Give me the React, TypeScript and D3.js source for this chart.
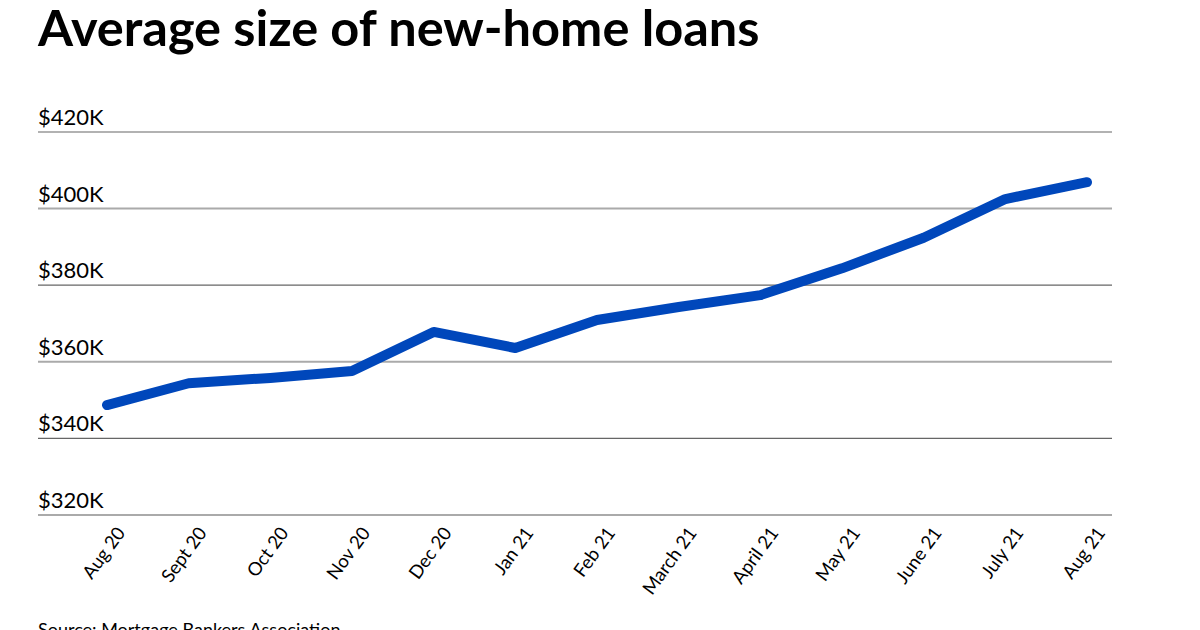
import React from "react";
import * as d3 from "d3";

const months = ["Aug 20","Sept 20","Oct 20","Nov 20","Dec 20","Jan 21","Feb 21","March 21","April 21","May 21","June 21","July 21","Aug 21"];
const avgLoan = [348.7,354.4,355.8,357.6,367.8,363.6,370.9,374.3,377.4,384.4,392.4,402.5,406.9];
const yTicks = [320,340,360,380,400,420];

const W = 1200, H = 630;
const FONT = "Lato, 'Noto Sans', sans-serif";

export default function App() {
  const x = d3.scalePoint<string>().domain(months).range([107, 1087]);
  const y = d3.scaleLinear().domain([320, 420]).range([515, 132]);
  const line = d3.line<number>().x((_, i) => x(months[i])!).y(d => y(d));
  return (
    <svg width={W} height={H} style={{ position: "absolute", left: 0, top: 0, background: "#fff" }}>
      <text x={38} y={46} fontFamily={FONT} fontWeight={700} fontSize={50.5} fill="#000">Average size of new-home loans</text>
      {yTicks.map((t, i) => (
        <g key={t}>
          <line x1={38} x2={1112} y1={y(t)} y2={y(t)} stroke={i % 2 === 0 ? "#aaa" : "#666"} strokeWidth={i % 2 === 0 ? 2 : 1.2} />
          <text x={38} y={y(t) - 7} fontFamily={FONT} fontSize={22} fill="#000">${t}K</text>
        </g>
      ))}
      <path d={line(avgLoan)!} fill="none" stroke="#0047bb" strokeWidth={10} strokeLinecap="round" strokeLinejoin="round" />
      {months.map(m => (
        <text key={m} transform={`translate(${x(m)! + 19},${533}) rotate(-54)`} textAnchor="end" fontFamily={FONT} fontSize={18.5} fill="#000">{m}</text>
      ))}
      <text x={38} y={636} fontFamily={FONT} fontSize={18} fill="#000">Source: Mortgage Bankers Association</text>
    </svg>
  );
}
